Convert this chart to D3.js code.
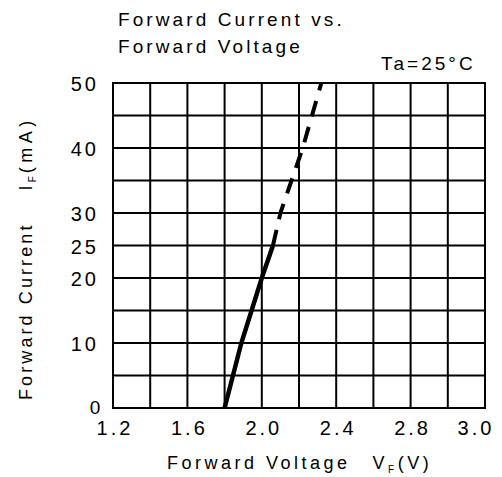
<!DOCTYPE html>
<meta charset="utf-8">
<head>
<script type="text/javascript" src="https://cdn.jsdelivr.net/npm/d3@7/dist/d3.min.js"></script>
<style>
	body { margin: 0; background: #fff; }
	text { font-family: "Liberation Sans", Arial, sans-serif; fill: #000; }
</style>
</head>
<body>
<div id="chart"></div>
<script>

// grid / axis values
var xGrid = [1.2, 1.4, 1.6, 1.8, 2.0, 2.2, 2.4, 2.6, 2.8, 3.0, 3.2];
var xTickPos = [1.2, 1.6, 2.0, 2.4, 2.8, 3.2];
var xTickLabels = ["1.2", "1.6", "2.0", "2.4", "2.8", "3.0"];
var yGrid = [0, 5, 10, 15, 20, 25, 30, 35, 40, 45, 50];
var yTicks = [10, 20, 25, 30, 40, 50];

// curve
var solidV = [1.80, 1.89, 2.00, 2.06];
var solidI = [0, 10, 20, 25];
var dashV = [2.06, 2.10, 2.16, 2.22, 2.27, 2.32];
var dashI = [25, 30, 35, 40, 45, 50];

var width = 502, height = 477;
var margin = {top: 83, right: 17, bottom: 69, left: 113};

var svg = d3.select("#chart").append("svg")
	.attr("width", width)
	.attr("height", height);

var x = d3.scaleLinear().domain([1.2, 3.2]).range([margin.left, width - margin.right]);
var y = d3.scaleLinear().domain([0, 50]).range([height - margin.bottom, margin.top]);

// grid
var grid = svg.append("g").attr("stroke", "#000").attr("stroke-width", 2);
grid.selectAll("line.v").data(xGrid).enter().append("line")
	.attr("x1", function(d) { return x(d); })
	.attr("x2", function(d) { return x(d); })
	.attr("y1", y(0) + 1)
	.attr("y2", y(50) - 1);
grid.selectAll("line.h").data(yGrid).enter().append("line")
	.attr("y1", function(d) { return y(d); })
	.attr("y2", function(d) { return y(d); })
	.attr("x1", x(1.2) - 1)
	.attr("x2", x(3.2) + 1);

// tick labels
svg.append("g").selectAll("text").data(xTickPos).enter().append("text")
	.attr("x", function(d, i) { return x(d) + (i == xTickPos.length - 1 ? -9 : 2); })
	.attr("y", 435)
	.attr("text-anchor", "middle")
	.style("font-size", "20px")
	.style("letter-spacing", "3px")
	.text(function(d, i) { return xTickLabels[i]; });

svg.append("g").selectAll("text").data(yTicks).enter().append("text")
	.attr("x", 99)
	.attr("y", function(d) { return y(d) + 8; })
	.attr("text-anchor", "end")
	.style("font-size", "20px")
	.style("letter-spacing", "3px")
	.text(function(d) { return d; });

// the lonely zero
svg.append("text")
	.attr("x", 95)
	.attr("y", y(0) + 6)
	.attr("text-anchor", "middle")
	.style("font-size", "19px")
	.text("0");

// curve
var line = d3.line()
	.x(function(d) { return x(d[0]); })
	.y(function(d) { return y(d[1]); });

svg.append("path")
	.datum(d3.zip(solidV, solidI))
	.attr("d", line)
	.attr("fill", "none")
	.attr("stroke", "#000")
	.attr("stroke-width", 4.5);

svg.append("path")
	.datum(d3.zip(dashV, dashI))
	.attr("d", line)
	.attr("fill", "none")
	.attr("stroke", "#000")
	.attr("stroke-width", 4)
	.attr("stroke-dasharray", "16,11");

// titles
svg.append("text")
	.attr("x", 118).attr("y", 26)
	.style("font-size", "19px")
	.style("letter-spacing", "3.1px")
	.text("Forward Current vs.");
svg.append("text")
	.attr("x", 118).attr("y", 53)
	.style("font-size", "19px")
	.style("letter-spacing", "3.1px")
	.text("Forward Voltage");
svg.append("text")
	.attr("x", 381).attr("y", 70)
	.style("font-size", "19px")
	.style("letter-spacing", "3px")
	.text("Ta=25°C");

// x axis title
var xt = svg.append("text")
	.attr("x", 167).attr("y", 469)
	.style("font-size", "18px")
	.style("letter-spacing", "3.5px");
xt.append("tspan").text("Forward Voltage");
xt.append("tspan").attr("dx", 22).text("V");
xt.append("tspan").attr("dy", 4).style("font-size", "10px").text("F");
xt.append("tspan").attr("dy", -4).text("(V)");

// y axis title
var yt = svg.append("text")
	.attr("transform", "translate(32,400) rotate(-90)")
	.style("font-size", "18px")
	.style("letter-spacing", "3.1px");
yt.append("tspan").text("Forward Current");
yt.append("tspan").attr("dx", 32).text("I");
yt.append("tspan").attr("dy", 4).style("font-size", "10px").text("F");
yt.append("tspan").attr("dy", -4).style("letter-spacing", "4.5px").text("(mA)");

</script>
</body>
</html>
